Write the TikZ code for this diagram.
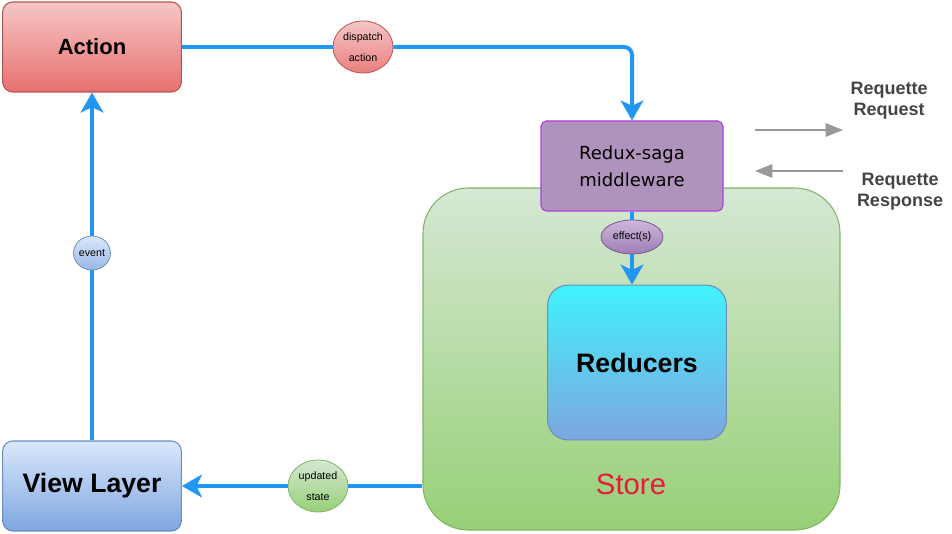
\documentclass[tikz,border=0pt]{standalone}
\usepackage{fontspec}
\setmainfont{Liberation Sans}
\newfontfamily\sagafont{DejaVu Sans}
\usetikzlibrary{shapes.geometric, positioning, arrows.meta}

\definecolor{flowblue}{RGB}{33,150,243}
\definecolor{redtop}{RGB}{246,198,198}
\definecolor{redbot}{RGB}{232,112,112}
\definecolor{redline}{RGB}{184,84,80}
\definecolor{bluetop}{RGB}{218,232,252}
\definecolor{bluebot}{RGB}{126,166,224}
\definecolor{blueline}{RGB}{108,142,191}
\definecolor{greentop}{RGB}{213,232,212}
\definecolor{greenbot}{RGB}{151,208,119}
\definecolor{greenline}{RGB}{130,179,102}
\definecolor{cyantop}{RGB}{64,242,252}
\definecolor{sagafill}{RGB}{176,147,189}
\definecolor{sagaline}{RGB}{176,60,224}
\definecolor{efftop}{RGB}{204,184,218}
\definecolor{effbot}{RGB}{160,124,182}
\definecolor{effline}{RGB}{120,90,140}
\definecolor{storered}{RGB}{232,25,60}
\definecolor{reqgray}{RGB}{153,153,153}
\definecolor{reqtext}{RGB}{68,68,68}

\begin{document}
\begin{tikzpicture}[
        x=0.75pt, y=-0.75pt,
        >={Stealth[length=15pt, width=17pt, inset=4pt]},
        flow/.style={draw=flowblue, line width=3pt},
        reqflow/.style={draw=reqgray, line width=1.5pt, -{Triangle[length=13pt, width=10pt]}},
        box/.style={rectangle, rounded corners=7.5pt, line width=0.8pt, align=center, minimum width=134pt, minimum height=67.5pt, font=\fontsize{20}{24}\selectfont\bfseries},
        actbox/.style={box, top color=redtop, bottom color=redbot, draw=redline, font=\fontsize{16.5}{20}\selectfont\bfseries},
        viewbox/.style={box, top color=bluetop, bottom color=bluebot, draw=blueline},
        redbox/.style={box, rounded corners=15pt, minimum height=116pt, top color=cyantop, bottom color=bluebot, draw=blueline},
        sagabox/.style={rectangle, rounded corners=4pt, line width=0.8pt, align=center, minimum width=136.5pt, minimum height=67.5pt, fill=sagafill, draw=sagaline, font=\sagafont\fontsize{13.5}{20}\selectfont},
        storebox/.style={rectangle, rounded corners=34pt, line width=0.8pt, minimum width=312.75pt, minimum height=256.5pt, top color=greentop, bottom color=greenbot, draw=greenline},
        tag/.style={ellipse, inner sep=0pt, line width=0.6pt, align=center, minimum width=45pt, minimum height=39pt, font=\fontsize{8}{15.5}\selectfont},
        reqlabel/.style={align=center, text=reqtext, font=\fontsize{13.5}{16}\selectfont\bfseries},
      ]
        \useasboundingbox (0,0) rectangle (952,534);

        \node[storebox] (store) at (631.5,359) {};
        \node[text=storered, font=\fontsize{22}{26}\selectfont] (storelbl) at (631,484) {Store};
        \node[redbox] (red) at (637,362.5) {Reducers};
        \node[sagabox] (mw) at (632,166) {Redux-saga\\middleware};
        \node[actbox] (act) at (92,47) {Action};
        \node[viewbox] (view) at (92,486) {View Layer};

        \node[tag, top color=redtop, bottom color=redbot!90, draw=redline] (disp) at (363,47) {dispatch\\action};
        \node[tag, minimum width=25.5pt, minimum height=25.5pt, top color=bluetop, bottom color=bluebot!80, draw=blueline] (event) at (92,253) {event};
        \node[tag, minimum width=46.5pt, minimum height=25.5pt, top color=efftop, bottom color=effbot, draw=effline] (eff) at (632,237) {effect(s)};
        \node[tag, top color=greentop, bottom color=greenbot, draw=greenline] (upd) at (318,486) {updated\\state};

        \draw[flow] (act) -- (disp);
        \draw[flow, ->, rounded corners=6pt] (disp) -| (mw);
        \draw[flow] (view) -- (event);
        \draw[flow, ->] (event) -- (act);
        \draw[flow] (store.west |- upd) -- (upd);
        \draw[flow, ->] (upd) -- (view);
        \draw[flow] (mw) -- (eff);
        \draw[flow, ->] (eff) -- (eff |- red.north);

        \coordinate (reqfrom) at (755,130);
        \coordinate (reqto) at (843,130);
        \coordinate (resfrom) at (843,171);
        \coordinate (resto) at (755,171);
        \draw[reqflow] (reqfrom) -- (reqto);
        \draw[reqflow] (resfrom) -- (resto);

        \node[reqlabel] (reqlbl) at (889,101) {Requette\\Request};
        \node[reqlabel] (reslbl) at (900,192) {Requette\\Response};
      \end{tikzpicture}
\end{document}
